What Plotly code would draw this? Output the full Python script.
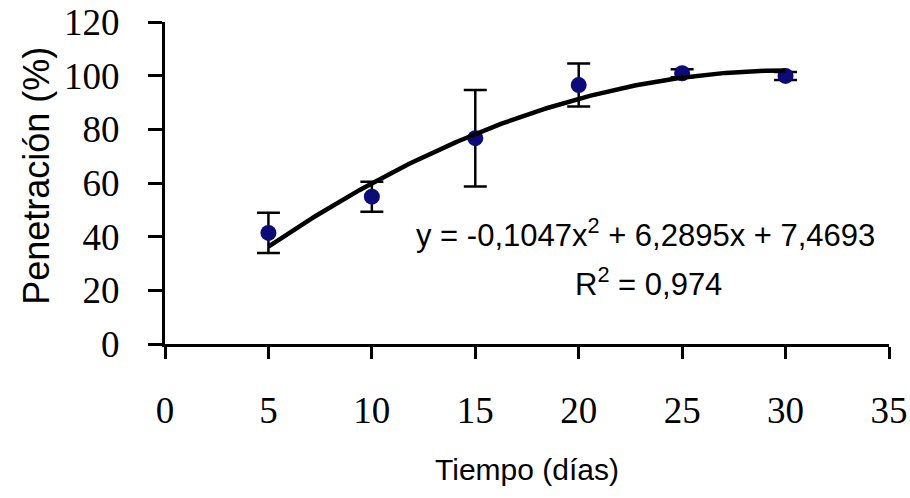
import numpy as np
import plotly.graph_objects as go

# ---- data ----
dias = [5, 10, 15, 20, 25, 30]
penetracion = [41.4, 54.9, 76.7, 96.5, 100.9, 99.9]
error = [7.5, 5.6, 18.0, 8.0, 1.5, 1.5]

# quadratic trend-line coefficients shown on the chart (a*x^2 + b*x + c)
coef = [-0.1047, 6.2895, 7.4693]
r2 = "0,974"

x_ticks = [0, 5, 10, 15, 20, 25, 30, 35]
y_ticks = [0, 20, 40, 60, 80, 100, 120]

# ---- figure ----
xt = np.linspace(min(dias), max(dias), 200)
yt = np.polyval(coef, xt)

fig = go.Figure()
fig.add_trace(go.Scatter(
    x=dias, y=penetracion, mode="markers",
    marker=dict(color="#0B0B7A", size=16),
    error_y=dict(type="data", array=error, visible=True,
                 color="black", thickness=2.5, width=11.5),
    showlegend=False,
))
fig.add_trace(go.Scatter(
    x=xt, y=yt, mode="lines",
    line=dict(color="black", width=4.5),
    showlegend=False,
))

eq = ("y = -0,1047x<sup>2</sup> + 6,2895x + 7,4693")
fig.add_annotation(x=23.25, y=41.3, xref="x", yref="y", text=eq,
                   showarrow=False, font=dict(family="Liberation Sans", size=31, color="black"))
fig.add_annotation(x=23.35, y=23.0, xref="x", yref="y", text="R<sup>2</sup> = " + r2,
                   showarrow=False, font=dict(family="Liberation Sans", size=31, color="black"))
fig.add_annotation(x=-0.177, y=0.522, xref="paper", yref="paper", text="Penetración (%)",
                   textangle=-90, showarrow=False, xanchor="center", yanchor="middle",
                   font=dict(family="Liberation Sans", size=36, color="black"))

axis_common = dict(
    showline=True, linecolor="black", linewidth=3,
    ticks="outside", tickcolor="black", tickwidth=3,
    showgrid=False, zeroline=False, automargin=False,
    ticklabeloverflow="allow",
    tickfont=dict(family="Liberation Serif", size=37, color="black"),
)

fig.update_layout(
    width=910, height=498,
    margin=dict(l=165, r=21, t=22, b=154),
    paper_bgcolor="white", plot_bgcolor="white",
    xaxis=dict(range=[0, 35], tickvals=x_ticks, ticklen=12, ticklabelstandoff=20,
               title=dict(text="Tiempo (días)", standoff=29,
                          font=dict(family="Liberation Sans", size=30, color="black")),
               **axis_common),
    yaxis=dict(range=[0, 120], tickvals=y_ticks, ticklen=14, ticklabelstandoff=21,
               **axis_common),
)

fig.write_html("out.html", config={"displayModeBar": False},
               post_script="document.body.style.margin='0';document.body.style.overflow='hidden';")
